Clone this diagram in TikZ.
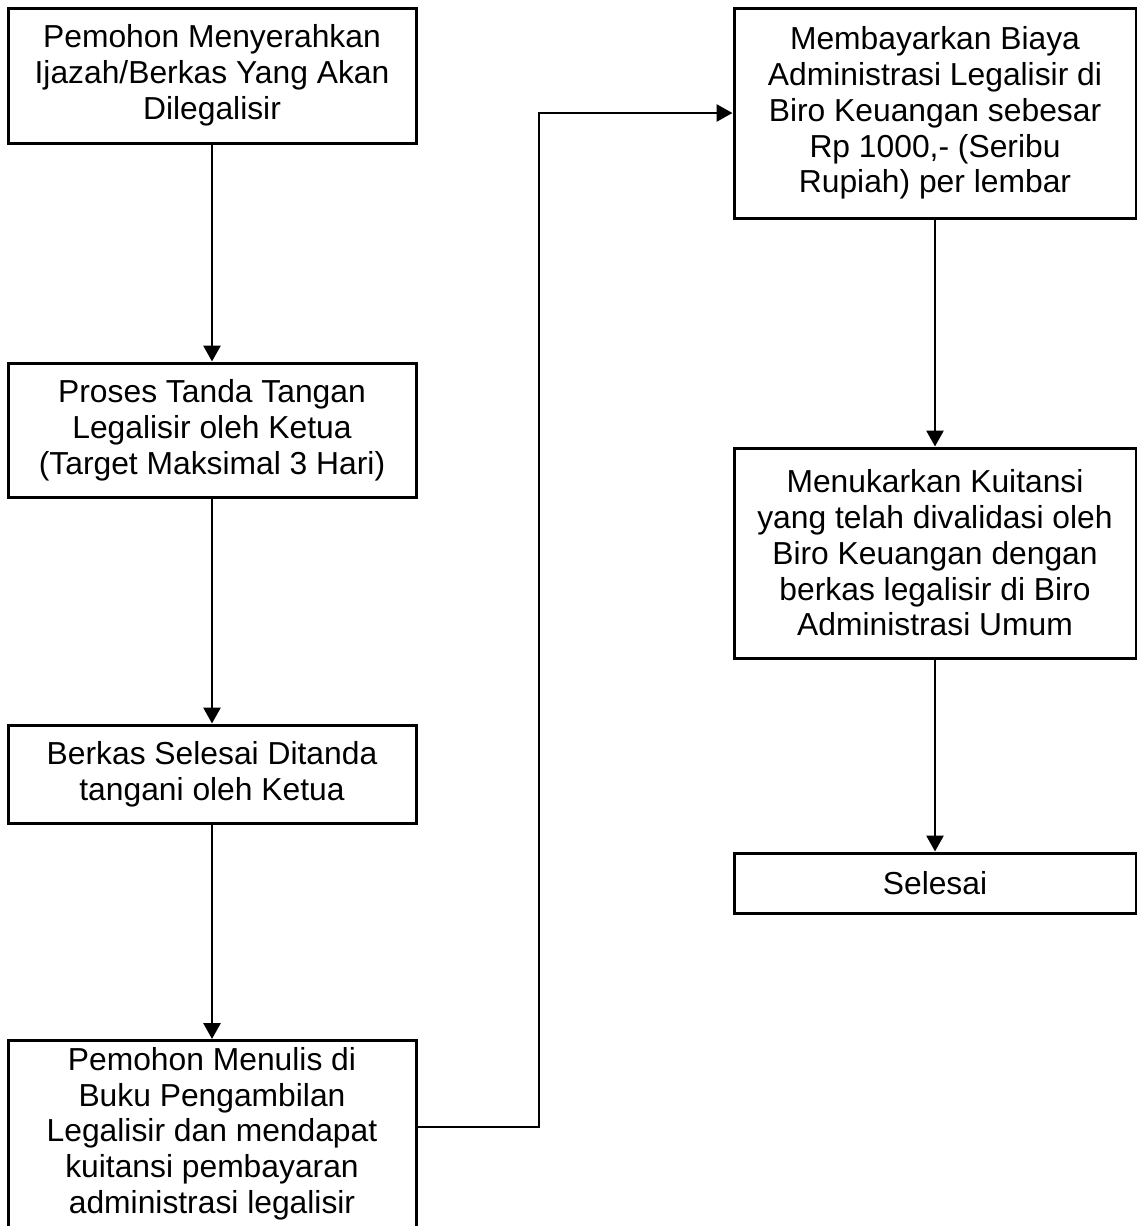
\documentclass[tikz,border=0pt]{standalone}
\usepackage{fontspec}
\setmainfont{Liberation Sans}
\usetikzlibrary{arrows.meta,calc}

\tikzset{
  box/.style={draw=black, line width=3pt, rectangle, inner sep=0pt,
              minimum width=408pt, align=center,
              font=\fontsize{31.8}{35.8}\selectfont},
  boxr/.style={box, minimum width=402pt},
  label/.style={inner sep=0pt, align=center, font=\fontsize{31.8}{35.8}\selectfont},
  flow/.style={draw=black, line width=2.8pt,
               -{Triangle[length=16pt,width=17pt]}},
}

\begin{document}
\begin{tikzpicture}[x=1pt,y=-1pt]
  \useasboundingbox (0,0) rectangle (1137,1226);
  \clip (0,0) rectangle (1137,1226);

  % left column
  \node[box, minimum height=135pt] (a) at (212,75.5)
    {Pemohon Menyerahkan\\Ijazah/Berkas Yang Akan\\Dilegalisir};
  \node[box, minimum height=134pt] (b) at (212,430)
    {Proses Tanda Tangan\\Legalisir oleh Ketua\\(Target Maksimal 3 Hari)};
  \node[box, minimum height=98pt] (c) at (212,774)
    {Berkas Selesai Ditanda\\tangani oleh Ketua};
  \node[box, minimum height=300pt, anchor=north] (d) at (212,1039) {};
  \node[label, anchor=north] (dtext) at (212,1047)
    {Pemohon Menulis di\\Buku Pengambilan\\Legalisir dan mendapat\\kuitansi pembayaran\\administrasi legalisir};

  % right column
  \node[boxr, minimum height=210pt] (e) at (935,113)
    {Membayarkan Biaya\\Administrasi Legalisir di\\Biro Keuangan sebesar\\Rp 1000,- (Seribu\\Rupiah) per lembar};
  \node[boxr, minimum height=210pt] (f) at (935,553)
    {Menukarkan Kuitansi\\yang telah divalidasi oleh\\Biro Keuangan dengan\\berkas legalisir di Biro\\Administrasi Umum};
  \node[boxr, minimum height=60pt] (g) at (935,883) {Selesai};

  % connectors
  \draw[flow] (a.south) -- (b.north);
  \draw[flow] (b.south) -- (c.north);
  \draw[flow] (c.south) -- (d.north);
  \coordinate (dout) at ($(d.north east)+(0,88)$);
  \coordinate (bend) at (539,113);
  \draw[flow] (dout) -| (bend) -- (e.west);
  \draw[flow] (e.south) -- (f.north);
  \draw[flow] (f.south) -- (g.north);
\end{tikzpicture}
\end{document}
